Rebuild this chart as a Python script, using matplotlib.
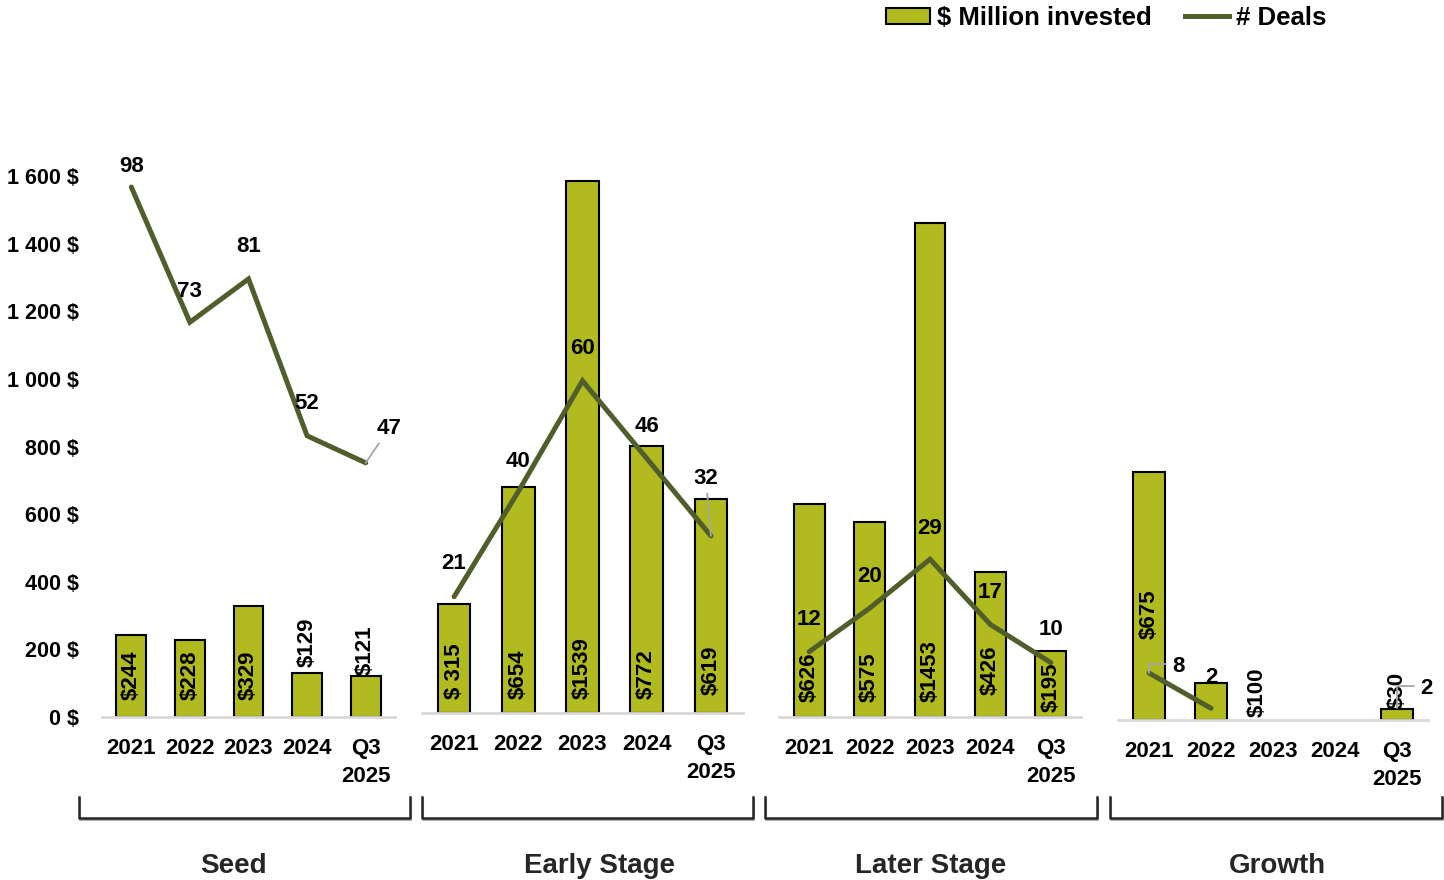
import numpy as np
import matplotlib
matplotlib.use('Agg')
import matplotlib.pyplot as plt
from matplotlib.lines import Line2D
from matplotlib.patches import Patch

plt.rcParams['font.family'] = ['Liberation Sans', 'DejaVu Sans']
plt.rcParams['text.parse_math'] = False

W, H = 1444, 880
BAR = '#B1BB1F'
LINE = '#4F5E2A'
LEADER = '#A6A6A6'

years = ['2021', '2022', '2023', '2024', 'Q3\n2025']
stages = ['Seed', 'Early Stage', 'Later Stage', 'Growth']

seed_invested = [244, 228, 329, 129, 121]
seed_deals = [98, 73, 81, 52, 47]
early_invested = [315, 654, 1539, 772, 619]
early_deals = [21, 40, 60, 46, 32]
later_invested = [626, 575, 1453, 426, 195]
later_deals = [12, 20, 29, 17, 10]
growth_invested = [675, 100, np.nan, np.nan, 30]
growth_deals = [8, 2, np.nan, np.nan, 2]

YMAX = 1700
DEAL_RATIO = 16


def fig_xy(x, y):
    return x / W, 1 - y / H


# panel boxes in pixels: left, right, baseline, px per $M
boxes = [(102, 395, 717, 0.338),
         (422, 743, 713, 0.346),
         (779, 1081, 717, 0.340),
         (1118, 1428, 720, 0.367)]

# bar label placement: (mode, gap px, dx px)
bar_lbl = [
    [('base', 17, 0), ('base', 17, 0), ('base', 17, 0), ('end', 6, 0), ('end', 1, 0)],
    [('base', 14, 0), ('base', 14, 0), ('base', 14, 0), ('base', 14, 0), ('base', 18, 0)],
    [('base', 15, 0), ('base', 15, 0), ('base', 15, 0), ('base', 22, 0), ('base', 5, 0)],
    [('center', -18, 0), ('base', 3, 46), None, None, ('end', 0, 0)],
]
# deal label offsets (dx, dy) px, y down; third item = leader type
deal_lbl = [
    [(0, -21, None), (0, -31, None), (0, -32, None), (0, -32, None), (23, -34, 'line')],
    [(0, -33, None), (0, -30, None), (0, -32, None), (0, -32, None), (-5, -57, 'line')],
    [(0, -32, None), (0, -32, None), (0, -31, None), (0, -32, None), (0, -33, None)],
    [(29, -7, 'elbow'), (0, -31, None), None, None, (29, -20, 'elbow')],
]

data = [(seed_invested, seed_deals), (early_invested, early_deals),
        (later_invested, later_deals), (growth_invested, growth_deals)]

fig = plt.figure(figsize=(W / 100, H / 100), dpi=100)
x = np.arange(len(years))

for p, ((inv, deals), (x0, x1, base, ppu)) in enumerate(zip(data, boxes)):
    ax = fig.add_axes([x0 / W, 1 - base / H, (x1 - x0) / W, YMAX * ppu / H])
    ax.bar(x, inv, width=0.51, color=BAR, edgecolor='black', linewidth=1.5, zorder=2)
    ax.set_xlim(-0.5, 4.5)
    ax.set_ylim(0, YMAX)
    for s in ['top', 'right', 'left']:
        ax.spines[s].set_visible(False)
    ax.spines['bottom'].set_color('#D9D9D9')
    ax.spines['bottom'].set_linewidth(2)
    ax.set_xticks(x, years)
    ax.tick_params(axis='x', length=0, pad=15)
    for t in ax.get_xticklabels():
        t.set_fontsize(16)
        t.set_fontweight('bold')
        t.set_linespacing(1.45)
    if p == 0:
        ax.set_yticks(range(0, 1601, 200))
        ax.set_yticklabels([f'{v:,} $'.replace(',', ' ') for v in range(0, 1601, 200)],
                           fontsize=15.5, fontweight='bold')
        ax.tick_params(axis='y', length=0, pad=16.5)
    else:
        ax.set_yticks([])

    ax2 = ax.twinx()
    ax2.set_ylim(0, YMAX / DEAL_RATIO)
    ax2.axis('off')
    ax2.plot(x, deals, color=LINE, lw=3.6, solid_capstyle='round',
             solid_joinstyle='miter', zorder=3)

    for i, v in enumerate(inv):
        spec = bar_lbl[p][i]
        if spec is None:
            continue
        mode, gap, dx = spec
        txt = f'${v:.0f}'
        if p == 1 and i == 0:
            txt = '$ 315'
        if mode == 'base':
            y, va, dy = 0, 'bottom', gap
        elif mode == 'end':
            y, va, dy = v, 'bottom', gap
        else:
            y, va, dy = v / 2, 'center', gap
        ax2.annotate(txt, (i, y), xycoords=ax.transData, xytext=(dx * 0.72, dy * 0.72),
                     textcoords='offset points', rotation=90, ha='center', va=va,
                     fontsize=16, fontweight='bold', zorder=5)

    for i, d in enumerate(deals):
        spec = deal_lbl[p][i]
        if spec is None:
            continue
        dx, dy, lead = spec
        kw = {}
        if lead == 'line':
            kw['arrowprops'] = dict(arrowstyle='-', color=LEADER, lw=1.3,
                                    shrinkA=1, shrinkB=0)
        elif lead == 'elbow':
            kw['arrowprops'] = dict(arrowstyle='-', color=LEADER, lw=1.3,
                                    shrinkA=2, shrinkB=0, relpos=(0, 0.6),
                                    connectionstyle='angle,angleA=0,angleB=90,rad=0')
        ax2.annotate(f'{d:.0f}', (i, d), xytext=(dx * 0.72, -dy * 0.72),
                     textcoords='offset points', ha='center', va='center',
                     fontsize=16, fontweight='bold', zorder=6, **kw)

# group brackets and labels
brackets = [(79, 410), (422, 753), (765, 1097), (1110, 1442)]
label_x = [233, 599, 931, 1277]
for (bx0, bx1), lx, name in zip(brackets, label_x, stages):
    xs = [bx0, bx0, bx1, bx1]
    ys = [797, 818, 818, 797]
    sx, sy = zip(*[fig_xy(a + 1, b + 2) for a, b in zip(xs, ys)])
    fig.add_artist(Line2D(sx, sy, color='#B0B0B0', lw=1.5, solid_joinstyle='round',
                          transform=fig.transFigure))
    fx, fy = zip(*[fig_xy(a, b) for a, b in zip(xs, ys)])
    fig.add_artist(Line2D(fx, fy, color='#262626', lw=1.8, solid_joinstyle='round',
                          transform=fig.transFigure))
    fig.text(*fig_xy(lx, 866), name, ha='center', va='center', fontsize=20,
             fontweight='bold', color='#262626')

handles = [Patch(facecolor=BAR, edgecolor='black', linewidth=1.5, label='$ Million invested'),
           Line2D([], [], color=LINE, lw=3.6, label='# Deals')]
fig.legend(handles=handles, loc='center left', bbox_to_anchor=fig_xy(886, 18),
           ncol=2, frameon=False, borderpad=0, borderaxespad=0,
           prop={'size': 18.5, 'weight': 'bold'}, handlelength=1.72, handleheight=0.6,
           handletextpad=0.28, columnspacing=1.28)

fig.savefig('out.png', dpi=100)
